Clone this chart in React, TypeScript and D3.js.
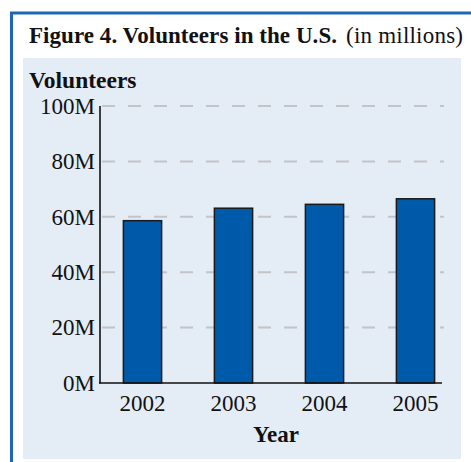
import React from "react";
import * as d3 from "d3";

const years = ["2002", "2003", "2004", "2005"];
const volunteers = [58.6, 63.1, 64.5, 66.5];
const yTicks = [0, 20, 40, 60, 80, 100];

export default function App() {
  const W = 471, H = 462;
  const x = d3.scaleBand<string>().domain(years).range([97, 461]).paddingInner(0.58).paddingOuter(0.29);
  const y = d3.scaleLinear().domain([0, 100]).range([383, 106]);
  const font = "'Liberation Serif', 'Times New Roman', serif";
  return (
    <svg width={W} height={H} style={{ position: "absolute", left: 0, top: 0 }} fontFamily={font}>
      <rect x={0} y={0} width={W} height={H} fill="#ffffff" />
      <rect x={23} y={58} width={438} height={401} fill="#e4ecf6" />
      <line x1={11.5} y1={12} x2={11.5} y2={H} stroke="#1f67b5" strokeWidth={3} />
      <line x1={10} y1={13} x2={W} y2={13} stroke="#1f67b5" strokeWidth={3} />
      <text x={29} y={43} fontSize={23} fill="#111">
        <tspan fontWeight="bold" textLength={308} lengthAdjust="spacing">Figure 4. Volunteers in the U.S.</tspan>
        <tspan x={346} textLength={117} lengthAdjust="spacing">(in millions)</tspan>
      </text>
      <text x={29} y={88} fontSize={23.5} fontWeight="bold" fill="#111">Volunteers</text>
      {yTicks.filter(t => t > 0).map(t => (
        <line key={"g" + t} x1={102} x2={444} y1={y(t)} y2={y(t)} stroke="#c2c4c8" strokeWidth={2} strokeDasharray="13,13" />
      ))}
      {yTicks.map(t => (
        <text key={"t" + t} x={95} y={y(t)} dy="0.34em" textAnchor="end" fontSize={23} fill="#111">{t}M</text>
      ))}
      {years.map((yr, i) => (
        <rect key={yr} x={x(yr)} y={y(volunteers[i])} width={x.bandwidth()} height={y(0) - y(volunteers[i])}
          fill="#005aaa" stroke="#1a1a1a" strokeWidth={1.5} />
      ))}
      <line x1={100} x2={100} y1={106} y2={383.5} stroke="#111" strokeWidth={1.6} />
      <line x1={99} x2={442} y1={383} y2={383} stroke="#111" strokeWidth={1.6} />
      {years.map(yr => (
        <text key={"x" + yr} x={(x(yr) as number) + x.bandwidth() / 2} y={411} textAnchor="middle" fontSize={23} fill="#111">{yr}</text>
      ))}
      <text x={276} y={442} textAnchor="middle" fontSize={23} fontWeight="bold" fill="#111">Year</text>
    </svg>
  );
}
